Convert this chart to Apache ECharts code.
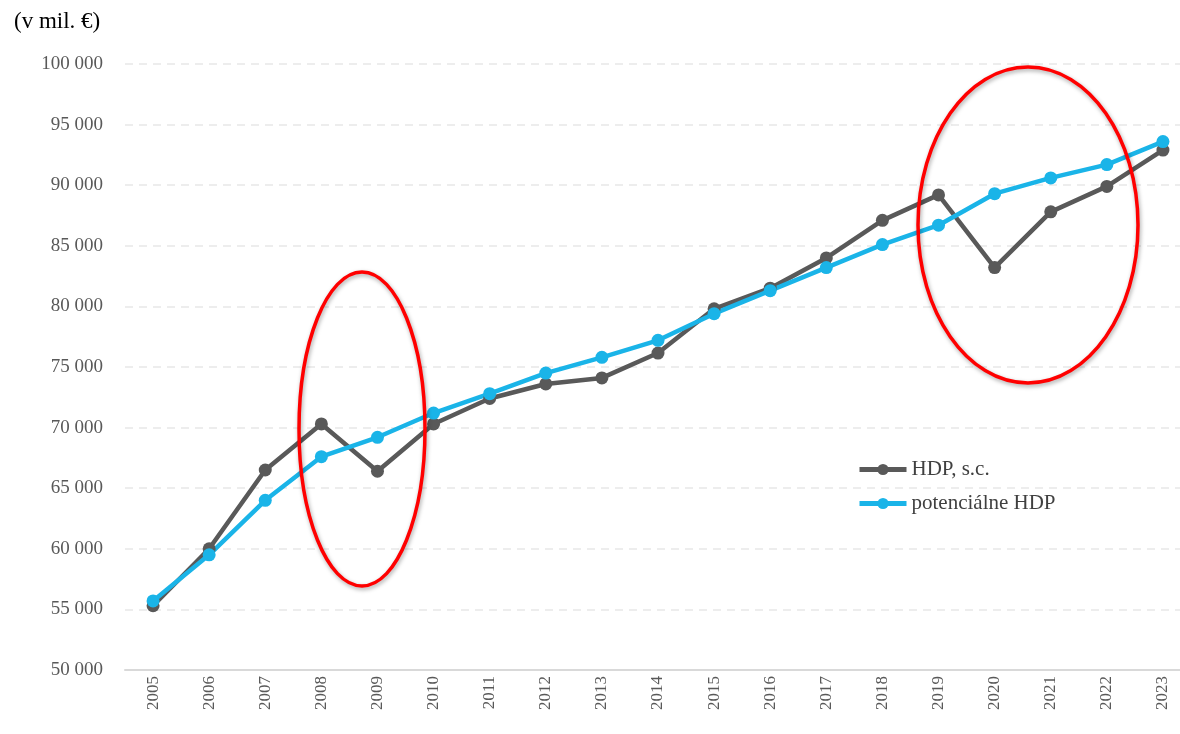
<!DOCTYPE html>
<html>
<head>
<meta charset="utf-8">
<script src="https://cdn.jsdelivr.net/npm/echarts@6/dist/echarts.min.js"></script>
<style>
  html, body { margin: 0; padding: 0; background: #fff; }
  #chart { width: 1180px; height: 734px; }
</style>
</head>
<body>
<div id="chart"></div>
<script>
// roky
const years = ['2005', '2006', '2007', '2008', '2009', '2010', '2011', '2012', '2013', '2014',
  '2015', '2016', '2017', '2018', '2019', '2020', '2021', '2022', '2023'];

// HDP, s.c. (v mil. €)
const hdp = [55300, 60000, 66500, 70300, 66400, 70300, 72400, 73600, 74100, 76150,
  79800, 81500, 84000, 87100, 89200, 83200, 87800, 89900, 92900];

// potenciálne HDP
const potHdp = [55700, 59500, 64000, 67600, 69200, 71200, 72800, 74500, 75800, 77200,
  79400, 81300, 83200, 85100, 86700, 89300, 90600, 91700, 93600];

const fontFam = '"Liberation Serif", "DejaVu Serif", serif';

const chart = echarts.init(document.getElementById('chart'));

const fmt = v => {
  const s = String(v);
  return s.length > 3 ? s.slice(0, -3) + ' ' + s.slice(-3) : s;
};

chart.setOption({
  backgroundColor: '#fff',
  animation: false,
  textStyle: { fontFamily: fontFam },
  title: {
    text: '(v mil. €)',
    left: 9, top: 5,
    textStyle: { fontFamily: fontFam, fontSize: 23, fontWeight: 'normal', color: '#000' }
  },
  legend: {
    orient: 'vertical',
    left: 852, top: 454,
    itemGap: 13,
    itemWidth: 47, itemHeight: 14,
    lineStyle: { width: 5 },
    textStyle: { fontFamily: fontFam, fontSize: 21, color: '#404040' },
    data: ['HDP, s.c.', 'potenciálne HDP']
  },
  grid: { left: 125, top: 64, width: 1066, bottom: 64, outerBoundsMode: 'none' },
  xAxis: {
    type: 'category',
    data: years,
    boundaryGap: true,
    axisLine: { lineStyle: { color: '#d9d9d9', width: 2 } },
    axisTick: { show: false },
    axisLabel: {
      rotate: 90, margin: 6,
      fontFamily: fontFam, fontSize: 17, color: '#595959'
    }
  },
  yAxis: {
    type: 'value',
    min: 50000, max: 100000, interval: 5000,
    axisLine: { show: false },
    axisTick: { show: false },
    axisLabel: {
      margin: 22,
      fontFamily: fontFam, fontSize: 19, color: '#595959',
      formatter: fmt
    },
    splitLine: { lineStyle: { color: '#e8e8e8', type: [8, 6], width: 1.5 } }
  },
  series: [
    {
      name: 'HDP, s.c.',
      type: 'line',
      data: hdp,
      symbol: 'circle', symbolSize: 13,
      lineStyle: { color: '#595959', width: 4.5 },
      itemStyle: { color: '#595959' }
    },
    {
      name: 'potenciálne HDP',
      type: 'line',
      data: potHdp,
      symbol: 'circle', symbolSize: 13,
      lineStyle: { color: '#1ab4e8', width: 4.5 },
      itemStyle: { color: '#1ab4e8' }
    }
  ],
  graphic: [
    {
      type: 'ellipse',
      shape: { cx: 362, cy: 429, rx: 63, ry: 157 },
      style: { fill: 'none', stroke: '#ff0000', lineWidth: 3.5,
        shadowBlur: 4, shadowColor: 'rgba(0,0,0,0.35)', shadowOffsetX: 1, shadowOffsetY: 2 },
      z: 100
    },
    {
      type: 'ellipse',
      shape: { cx: 1028, cy: 225, rx: 110, ry: 158 },
      style: { fill: 'none', stroke: '#ff0000', lineWidth: 3.5,
        shadowBlur: 4, shadowColor: 'rgba(0,0,0,0.35)', shadowOffsetX: 1, shadowOffsetY: 2 },
      z: 100
    }
  ]
});
</script>
</body>
</html>
